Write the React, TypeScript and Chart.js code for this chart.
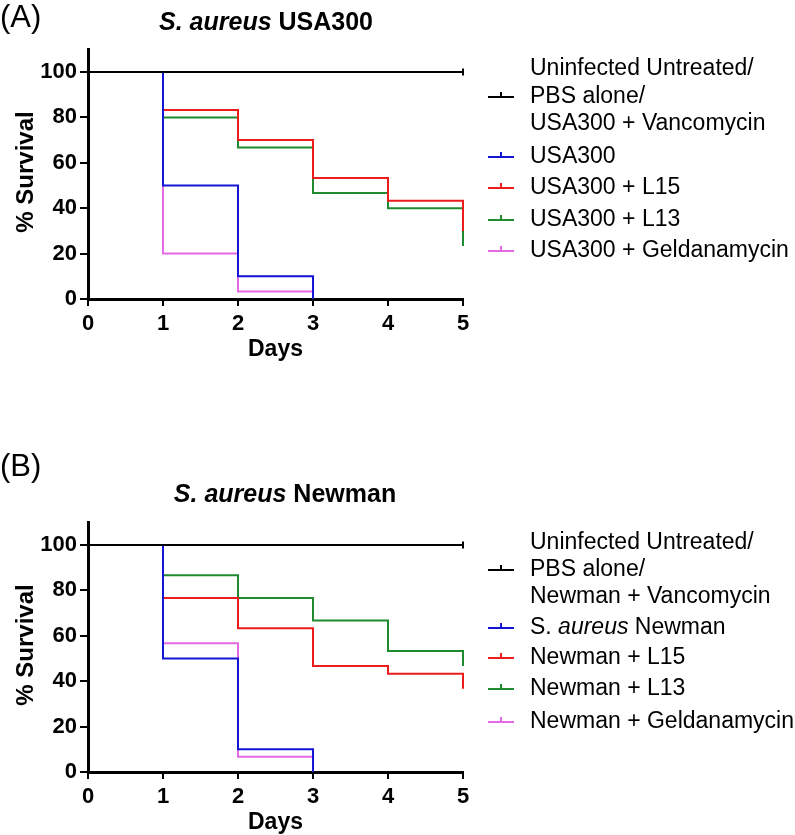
import React, { useEffect, useRef } from 'react';
import { Chart, registerables } from 'chart.js';
Chart.register(...registerables);

// ---------- data ----------
const days = [0, 1, 2, 3, 4, 5];
const yTickValues = [0, 20, 40, 60, 80, 100];

const usaControl = [100, 100, 100, 100, 100, 100];
const usa300 = [100, 50, 10, 0];
const usaL15 = [100, 83.3, 70, 53.3, 43.3, 30];
const usaL13 = [100, 80, 66.7, 46.7, 40, 23.3];
const usaGeld = [100, 20, 3.3, 0];

const newControl = [100, 100, 100, 100, 100, 100];
const newman = [100, 50, 10, 0];
const newL15 = [100, 76.7, 63.3, 46.7, 43.3, 36.7];
const newL13 = [100, 86.7, 76.7, 66.7, 53.3, 46.7];
const newGeld = [100, 56.7, 6.7, 0];

const usaLabels = [
  ['Uninfected Untreated/', 'PBS alone/', 'USA300 + Vancomycin'],
  ['USA300'],
  ['USA300 + L15'],
  ['USA300 + L13'],
  ['USA300 + Geldanamycin'],
];
const newLabels = [
  ['Uninfected Untreated/', 'PBS alone/', 'Newman + Vancomycin'],
  ['S. *aureus* Newman'],
  ['Newman + L15'],
  ['Newman + L13'],
  ['Newman + Geldanamycin'],
];

// ---------- styles ----------
const seriesColors = ['#000000', '#1414d4', '#ec1c1c', '#1f8a2f', '#e46ae4'];
const FONT = 'Arial, "Liberation Sans", sans-serif';
const PX_PER_100 = 227;
const AREA_LEFT = 88;
const AREA_RIGHT = 463;

type Panel = {
  letter: string;
  title: string;
  series: number[][];
  labels: string[][];
  top: number;
  height: number;
  chartTop: number;
  chartBottom: number;
  letterY: number;
  titleX: number;
  titleY: number;
  legendYs: number[];
};

const panels: Panel[] = [
  {
    letter: '(A)',
    title: '*S. aureus* USA300',
    series: [usaControl, usa300, usaL15, usaL13, usaGeld],
    labels: usaLabels,
    top: 0,
    height: 420,
    chartTop: 49,
    chartBottom: 299,
    letterY: 18,
    titleX: 266,
    titleY: 23,
    legendYs: [69, 97, 124, 157, 188, 220, 251],
  },
  {
    letter: '(B)',
    title: '*S. aureus* Newman',
    series: [newControl, newman, newL15, newL13, newGeld],
    labels: newLabels,
    top: 420,
    height: 415,
    chartTop: 102,
    chartBottom: 352,
    letterY: 47,
    titleX: 285,
    titleY: 75,
    legendYs: [123, 150, 177, 208, 238, 269, 302],
  },
];

function parseRich(s: string) {
  const parts = s.split('*');
  return parts.map((t, i) => ({ t, italic: i % 2 === 1 })).filter((p) => p.t.length > 0);
}

function drawRich(ctx: CanvasRenderingContext2D, s: string, x: number, y: number, size: number, bold: boolean, align: 'left' | 'center') {
  const segs = parseRich(s);
  const fontFor = (it: boolean) => `${it ? 'italic ' : ''}${bold ? 'bold ' : ''}${size}px ${FONT}`;
  let total = 0;
  segs.forEach((sg) => {
    ctx.font = fontFor(sg.italic);
    total += ctx.measureText(sg.t).width;
  });
  let cx = align === 'center' ? x - total / 2 : x;
  ctx.textAlign = 'left';
  ctx.textBaseline = 'middle';
  segs.forEach((sg) => {
    ctx.font = fontFor(sg.italic);
    ctx.fillText(sg.t, cx, y);
    cx += ctx.measureText(sg.t).width;
  });
}

function makeDecor(p: Panel) {
  return {
    id: 'decor',
    afterDraw(chart: any) {
      const ctx: CanvasRenderingContext2D = chart.ctx;
      const area = chart.chartArea;
      ctx.save();
      ctx.fillStyle = '#000';
      // panel letter
      ctx.font = `31px ${FONT}`;
      ctx.textAlign = 'left';
      ctx.textBaseline = 'middle';
      ctx.fillText(p.letter, 0, p.letterY);
      // title
      drawRich(ctx, p.title, p.titleX, p.titleY, 25, true, 'center');
      // y title
      ctx.save();
      ctx.translate(26, (area.top + area.bottom) / 2 - 2);
      ctx.rotate(-Math.PI / 2);
      ctx.font = `bold 24px ${FONT}`;
      ctx.textAlign = 'center';
      ctx.textBaseline = 'middle';
      ctx.fillText('% Survival', 0, 0);
      ctx.restore();
      // x title
      ctx.font = `bold 23px ${FONT}`;
      ctx.textAlign = 'center';
      ctx.textBaseline = 'middle';
      ctx.fillText('Days', (area.left + area.right) / 2, area.bottom + 51);
      // legend
      let li = 0;
      p.labels.forEach((lines, si) => {
        const ys = lines.map(() => p.legendYs[li++]);
        const symY = ys[Math.floor((ys.length - 1) / 2)];
        const x1 = area.right + 25;
        const x2 = area.right + 51;
        ctx.strokeStyle = seriesColors[si];
        ctx.lineWidth = 2;
        ctx.beginPath();
        ctx.moveTo(x1, symY);
        ctx.lineTo(x2, symY);
        ctx.moveTo((x1 + x2) / 2, symY);
        ctx.lineTo((x1 + x2) / 2, symY - 5);
        ctx.stroke();
        ctx.fillStyle = '#000';
        lines.forEach((ln, k) => drawRich(ctx, ln, area.right + 67, ys[k], 23, false, 'left'));
      });
      ctx.restore();
    },
  };
}

function PanelChart({ p }: { p: Panel }) {
  const ref = useRef<HTMLCanvasElement | null>(null);
  useEffect(() => {
    if (!ref.current) return;
    const datasets = p.series.map((vals, si) => ({
      label: p.labels[si].join(' '),
      data: vals.map((v, i) => ({ x: days[i], y: v })),
      borderColor: seriesColors[si],
      backgroundColor: seriesColors[si],
      borderWidth: 2,
      stepped: true,
      fill: false,
      clip: 6,
      pointRadius: vals.map((_, i) => (si === 0 && i === vals.length - 1 ? 3.5 : 0)),
      pointStyle: 'line',
      rotation: 90,
      pointBorderWidth: 2,
      pointBorderColor: seriesColors[si],
    }));
    const tickFont = { family: FONT, size: 22, weight: 'bold' as const };
    const yMax = ((p.chartBottom - p.chartTop) / PX_PER_100) * 100;
    const chart = new Chart(ref.current, {
      type: 'line',
      data: { datasets },
      plugins: [makeDecor(p)],
      options: {
        animation: false,
        responsive: false,
        devicePixelRatio: 1,
        layout: {
          padding: { left: 0, top: p.chartTop, right: 795 - AREA_RIGHT, bottom: p.height - p.chartBottom - 40 },
        },
        plugins: { legend: { display: false }, tooltip: { enabled: false }, title: { display: false } },
        scales: {
          x: {
            type: 'linear',
            min: 0,
            max: 5,
            afterBuildTicks: (s: any) => {
              s.ticks = days.map((d) => ({ value: d }));
            },
            afterFit: (s: any) => {
              s.height = 40;
            },
            ticks: { stepSize: 1, color: '#000', font: tickFont, padding: 5, maxRotation: 0 },
            grid: { drawOnChartArea: false, drawTicks: true, tickLength: 7, color: '#000', lineWidth: 2 },
            border: { display: true, color: '#000', width: 3 },
          },
          y: {
            type: 'linear',
            min: 0,
            max: yMax,
            afterBuildTicks: (s: any) => {
              s.ticks = yTickValues.map((v) => ({ value: v }));
            },
            afterFit: (s: any) => {
              s.width = AREA_LEFT;
            },
            ticks: { color: '#000', font: tickFont, padding: 3 },
            grid: { drawOnChartArea: false, drawTicks: true, tickLength: 8, color: '#000', lineWidth: 2 },
            border: { display: true, color: '#000', width: 3 },
          },
        },
      } as any,
    });
    return () => chart.destroy();
  }, [p]);
  return (
    <canvas
      ref={ref}
      width={795}
      height={p.height}
      style={{ position: 'absolute', left: 0, top: p.top, width: 795, height: p.height }}
    />
  );
}

export default function App() {
  return (
    <div style={{ position: 'absolute', left: 0, top: 0, width: 795, height: 835, background: '#fff' }}>
      {panels.map((p) => (
        <PanelChart key={p.letter} p={p} />
      ))}
    </div>
  );
}
